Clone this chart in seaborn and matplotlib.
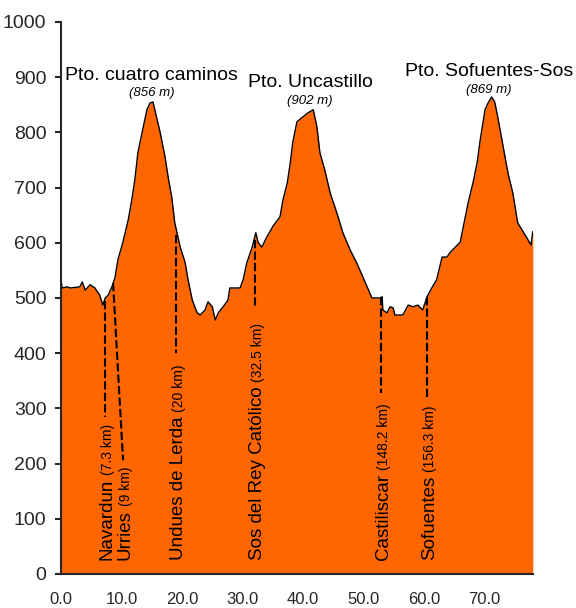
import numpy as np
import matplotlib
matplotlib.use('Agg')
import matplotlib.pyplot as plt
import seaborn as sns

# Perfil (km, altitud en m)
km = [0.0, 0.17, 1.0, 1.5, 3.1, 3.5, 4.0, 4.8, 5.6, 6.4, 6.9, 7.3, 7.8, 8.4, 8.9,
      9.4, 10.2, 11.1, 11.7, 12.2, 12.7, 13.6, 14.2, 14.7, 15.2, 15.5, 16.4, 17.2,
      17.7, 18.3, 18.8, 19.7, 20.5, 21.0, 21.7, 22.5, 23.0, 23.8, 24.3, 25.0, 25.5,
      26.0, 26.8, 27.6, 27.9, 29.6, 30.1, 30.7, 31.6, 32.2, 32.6, 33.2, 34.0, 35.0,
      36.2, 36.7, 37.4, 37.9, 38.3, 39.0, 40.0, 40.8, 41.7, 42.3, 42.8, 43.6, 44.5,
      45.6, 46.6, 47.8, 48.9, 49.9, 51.4, 52.7, 53.1, 53.2, 53.9, 54.4, 54.9, 55.2,
      56.5, 57.4, 58.2, 59.0, 59.8, 60.5, 61.3, 62.1, 63.0, 63.8, 64.3, 65.1, 66.0,
      66.4, 67.3, 68.1, 68.8, 69.3, 70.1, 70.6, 71.2, 71.7, 72.2, 73.1, 73.9, 74.7,
      75.5, 76.4, 77.0, 77.7, 78.0]
altitud = [533, 518, 520, 518, 520, 529, 514, 524, 518, 505, 487, 500, 505, 520, 536,
           569, 600, 641, 678, 714, 763, 810, 841, 853, 855, 841, 799, 755,
           719, 683, 636, 592, 565, 533, 496, 473, 469, 478, 493, 484, 460,
           473, 484, 496, 518, 518, 533, 563, 592, 618, 600, 592, 610, 629,
           647, 678, 708, 745, 781, 819, 828, 835, 841, 810, 763, 732, 690,
           654, 618, 587, 563, 538, 500, 500, 502, 478, 473, 484, 482, 469,
           469, 487, 484, 487, 478, 502, 518, 533, 574, 574, 582, 591, 601,
           623, 672, 708, 745, 786, 841, 853, 864, 855, 828, 774, 726, 690,
           636, 620, 609, 596, 620]

# Puertos
puertos = ['Pto. cuatro caminos', 'Pto. Uncastillo', 'Pto. Sofuentes-Sos']
puertos_alt = ['(856 m)', '(902 m)', '(869 m)']
puertos_km = [14.96, 41.2, 70.7]
puertos_y = [895, 882, 902]
puertos_alt_y = [866, 851, 871]

# Localidades
pueblos = ['Navardun', 'Urries', 'Undues de Lerda', 'Sos del Rey Católico',
           'Castiliscar', 'Sofuentes']
pueblos_dist = ['(7.3 km)', '(9 km)', '(20 km)', '(32.5 km)', '(148.2 km)', '(156.3 km)']
linea_x_sup = [7.2, 8.6, 19.0, 32.1, 52.9, 60.5]
linea_x_inf = [7.2, 10.25, 19.0, 32.1, 52.9, 60.5]
linea_y_sup = [495, 527, 614, 605, 502, 502]
linea_y_inf = [285, 206, 400, 482, 328, 320]

sns.set_style('ticks')
plt.rcParams['font.family'] = ['Liberation Sans', 'DejaVu Sans']

fig = plt.figure(figsize=(5.76, 6.08), dpi=100)
ax = fig.add_axes([0.106, 0.056, 0.819, 0.908])

ax.fill_between(km, altitud, 0, color='#FF6600', lw=0, zorder=1)
sns.lineplot(x=km, y=altitud, color='black', lw=1.0, estimator=None, ax=ax, zorder=2)

for xs, xi, ys, yi in zip(linea_x_sup, linea_x_inf, linea_y_sup, linea_y_inf):
    ax.plot([xs, xi], [ys, yi], color='black', lw=1.5, dashes=(4, 1.5), zorder=3)

for nombre, dist, xi in zip(pueblos, pueblos_dist, linea_x_inf):
    t = ax.annotate(nombre, xy=(xi, 25), xytext=(5, 0), textcoords='offset points',
                    rotation=90, rotation_mode='anchor', ha='left', va='baseline',
                    fontsize=13.5, color='black', zorder=4)
    ax.annotate(dist, xy=(xi, 1.0), xycoords=('data', t), xytext=(5, 3),
                textcoords='offset points', rotation=90, rotation_mode='anchor',
                ha='left', va='baseline', fontsize=10, color='black', zorder=4)

for nombre, alt, xp, yp, ya in zip(puertos, puertos_alt, puertos_km, puertos_y, puertos_alt_y):
    ax.text(xp, yp, nombre, ha='center', va='baseline', fontsize=14, color='black')
    ax.text(xp, ya, alt, ha='center', va='baseline', fontsize=9.5, style='italic',
            color='black')

ax.set_xlim(0, 78)
ax.set_ylim(0, 1000)
ax.set_xticks(np.arange(0, 80, 10))
ax.set_xticklabels([f'{v:.1f}' for v in np.arange(0, 80, 10)])
ax.set_yticks(np.arange(0, 1001, 100))
ax.set_xlabel('')
ax.set_ylabel('')
ax.tick_params(axis='x', length=0, pad=13, labelsize=12)
ax.tick_params(axis='y', length=4.5, width=1.5, pad=6, direction='out', labelsize=14)
sns.despine(ax=ax)
ax.spines['left'].set_linewidth(1.5)
ax.spines['bottom'].set_linewidth(1.5)

fig.savefig('out.png', dpi=100)
